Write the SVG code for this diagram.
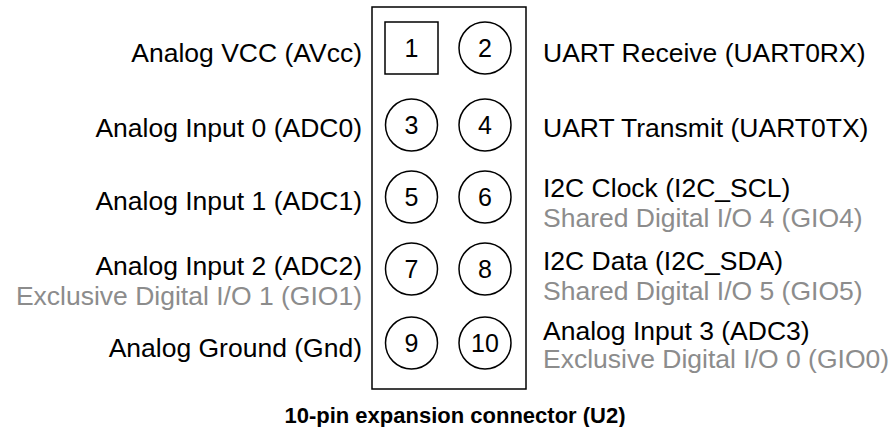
<svg xmlns="http://www.w3.org/2000/svg" width="894" height="427" viewBox="0 0 894 427">
<style>
text{font-family:"Liberation Sans",Arial,sans-serif;font-size:26.5px;fill:#000}
.l{text-anchor:end}
.g{fill:#8c8c8c}
.n{text-anchor:middle;font-size:25px}
.pin{fill:#fff;stroke:#000;stroke-width:1.5}
.cap{font-weight:bold;font-size:22px;text-anchor:middle}
</style>
<rect id="connector" x="372" y="7" width="154" height="382" fill="#fff" stroke="#000" stroke-width="1.5"/>
<g id="pin1"><rect class="pin" x="385" y="22" width="53" height="52"/><text class="n" x="411.5" y="57">1</text></g>
<g id="pin2"><circle class="pin" cx="485" cy="48" r="26"/><text class="n" x="485" y="57">2</text></g>
<g id="pin3"><circle class="pin" cx="411.5" cy="125" r="26"/><text class="n" x="411.5" y="134">3</text></g>
<g id="pin4"><circle class="pin" cx="485" cy="125" r="26"/><text class="n" x="485" y="134">4</text></g>
<g id="pin5"><circle class="pin" cx="411.5" cy="197" r="26"/><text class="n" x="411.5" y="206">5</text></g>
<g id="pin6"><circle class="pin" cx="485" cy="197" r="26"/><text class="n" x="485" y="206">6</text></g>
<g id="pin7"><circle class="pin" cx="411.5" cy="269" r="26"/><text class="n" x="411.5" y="278">7</text></g>
<g id="pin8"><circle class="pin" cx="485" cy="269" r="26"/><text class="n" x="485" y="278">8</text></g>
<g id="pin9"><circle class="pin" cx="411.5" cy="343" r="26"/><text class="n" x="411.5" y="352">9</text></g>
<g id="pin10"><circle class="pin" cx="485" cy="343" r="26"/><text class="n" x="485" y="352">10</text></g>
<g id="labels-left">
<text class="l" x="362" y="62">Analog VCC (AVcc)</text>
<text class="l" x="362" y="137">Analog Input 0 (ADC0)</text>
<text class="l" x="362" y="210">Analog Input 1 (ADC1)</text>
<text class="l" x="362" y="275">Analog Input 2 (ADC2)</text>
<text class="l g" x="362" y="305">Exclusive Digital I/O 1 (GIO1)</text>
<text class="l" x="362" y="357">Analog Ground (Gnd)</text>
</g>
<g id="labels-right">
<text x="543" y="62">UART Receive (UART0RX)</text>
<text x="543" y="137">UART Transmit (UART0TX)</text>
<text x="543" y="197">I2C Clock (I2C_SCL)</text>
<text class="g" x="543" y="227">Shared Digital I/O 4 (GIO4)</text>
<text x="543" y="270">I2C Data (I2C_SDA)</text>
<text class="g" x="543" y="300">Shared Digital I/O 5 (GIO5)</text>
<text x="543" y="340">Analog Input 3 (ADC3)</text>
<text class="g" x="543" y="368">Exclusive Digital I/O 0 (GIO0)</text>
</g>
<g id="connectors"></g>
<text class="cap" x="455" y="423">10-pin expansion connector (U2)</text>
</svg>
